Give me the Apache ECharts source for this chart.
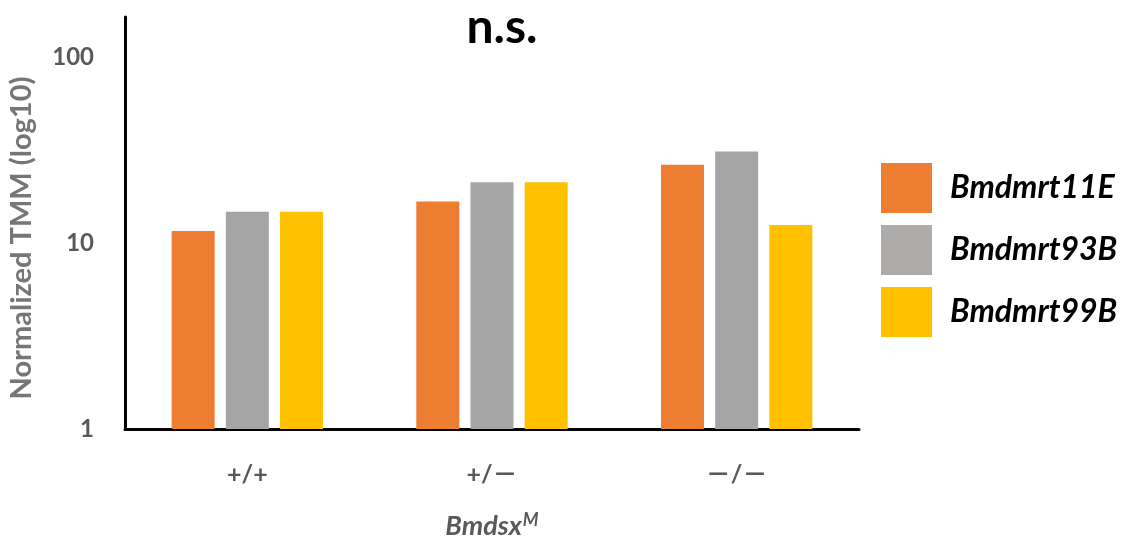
<!DOCTYPE html>
<html>
<head>
<meta charset="utf-8">
<script src="https://cdn.jsdelivr.net/npm/echarts@6/dist/echarts.min.js"></script>
<style>
  html, body { margin: 0; padding: 0; background: #fff; }
  #chart { width: 1129px; height: 538px; }
</style>
</head>
<body>
<div id="chart"></div>
<script>
// Genotype groups on the x axis
const genotypes = ['+/+', '+/－', '－/－'];

// Normalized TMM per gene and genotype
const seriesNames = ['Bmdmrt11E', 'Bmdmrt93B', 'Bmdmrt99B'];
const bmdmrt11E = [11.6, 16.7, 26.3];
const bmdmrt93B = [14.7, 21.2, 31.0];
const bmdmrt99B = [14.7, 21.2, 12.5];

const colors = ['#ED7D31', '#A5A5A5', '#FFC000'];
const legendColors = ['#ED7D31', '#AEABAB', '#FFC000'];

const chart = echarts.init(document.getElementById('chart'));
const font = 'Lato, "Noto Sans CJK SC", sans-serif';

const values = [bmdmrt11E, bmdmrt93B, bmdmrt99B];

chart.setOption({
  animation: false,
  backgroundColor: '#fff',
  title: {
    text: 'n.s.',
    left: 502,
    top: 4,
    textAlign: 'center',
    padding: 0,
    textStyle: { fontFamily: font, fontSize: 48, fontWeight: 'bold', color: '#000' }
  },
  legend: {
    orient: 'vertical',
    left: 881,
    top: 163,
    padding: 0,
    itemWidth: 51,
    itemHeight: 50,
    itemGap: 12,
    icon: 'rect',
    data: seriesNames.map((n, i) => ({ name: n, itemStyle: { color: legendColors[i] } })),
    textStyle: {
      fontFamily: font, fontSize: 32, fontWeight: 'bold', fontStyle: 'italic',
      color: '#000', padding: [0, 0, 0, 13]
    }
  },
  grid: { left: 125, width: 734, top: 17, bottom: 109, outerBoundsMode: 'none' },
  xAxis: {
    type: 'category',
    data: genotypes,
    axisLine: { lineStyle: { color: '#000', width: 3 } },
    axisTick: { show: false },
    axisLabel: { margin: 33, fontFamily: font, fontSize: 25, fontWeight: 'bold', color: '#595959' },
    name: '{a|Bmdsx}{b|M}',
    nameLocation: 'middle',
    nameGap: 82,
    nameTextStyle: {
      rich: {
        a: { fontFamily: font, fontSize: 27, fontWeight: 'bold', fontStyle: 'italic', color: '#595959' },
        b: { fontFamily: font, fontSize: 18, fontWeight: 'bold', fontStyle: 'italic', color: '#595959', verticalAlign: 'top', padding: [0, 0, 12, 1] }
      }
    }
  },
  yAxis: {
    type: 'log',
    logBase: 10,
    min: 1,
    max: 164,
    axisLine: { show: true, lineStyle: { color: '#000', width: 3 } },
    axisTick: { show: false },
    splitLine: { show: false },
    axisLabel: { margin: 31, fontFamily: font, fontSize: 24, fontWeight: 'bold', color: '#595959', showMaxLabel: false },
    name: 'Normalized TMM (log10)',
    nameLocation: 'middle',
    nameRotate: 90,
    nameGap: 89,
    nameTextStyle: {
      fontFamily: font, fontSize: 29, fontWeight: 'bold', color: '#767676',
      padding: [0, 30, 0, 0]
    }
  },
  series: seriesNames.map((name, i) => ({
    name,
    type: 'bar',
    data: values[i],
    barWidth: 43,
    barGap: '26%',
    itemStyle: { color: colors[i] }
  }))
});
</script>
</body>
</html>
